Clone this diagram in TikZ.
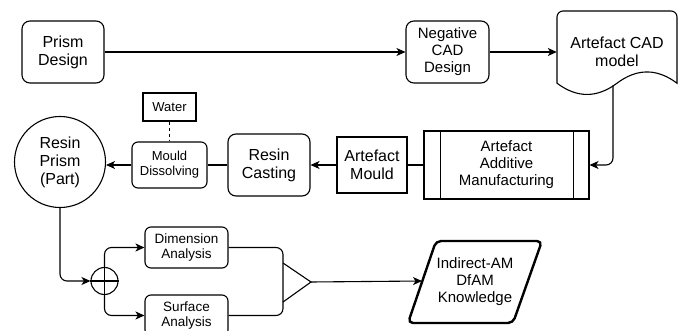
\documentclass[tikz,border=0pt]{standalone}
\usepackage{fontspec}
\setmainfont{Liberation Sans}
\usetikzlibrary{arrows.meta}
\tikzset{
  box/.style={draw, line width=1.1pt, align=center, inner sep=0pt},
  rbox/.style={box, rounded corners=8pt},
  sbox/.style={box, rounded corners=6pt},
  conn/.style={line width=1.1pt, rounded corners=7pt},
  arr/.style={conn, -{Stealth[length=9pt,width=8pt,inset=2.5pt]}},
  fA/.style={font=\fontsize{16}{18}\selectfont},
  fB/.style={font=\fontsize{15}{17}\selectfont},
  fC/.style={font=\fontsize{13.5}{15.5}\selectfont},
  fD/.style={font=\fontsize{13}{15}\selectfont},
}
\begin{document}
\begin{tikzpicture}[x=1pt,y=-1pt]
\useasboundingbox (0,0) rectangle (682,331);
\clip (0,0) rectangle (682,331);
\fill[white] (0,0) rectangle (682,331);

% nodes
\node[rbox,fA,minimum width=82,minimum height=62] (prism) at (63,52) {Prism\\Design};
\node[rbox,fB,minimum width=83,minimum height=62] (neg) at (447.5,52) {Negative\\CAD\\Design};
% document shape
\draw[line width=1.1pt, rounded corners=6pt] (557,83.2) -- (557,11) -- (677,11) [sharp corners] -- (677,83.2)
  .. controls (657,68.2) and (637,68.2) .. (617,83.2)
  .. controls (597,98.2) and (577,98.2) .. (557,83.2) -- cycle;
\node[fA,align=center,minimum width=120,minimum height=60,inner sep=0pt] (doc) at (617,52) {Artefact CAD\\model};
\coordinate (docb) at (613,85.5);

\node[box,fB,minimum width=165,minimum height=68] (am) at (506.5,165) {Artefact\\Additive\\Manufacturing};
\draw[line width=1.1pt] ([xshift=17]am.north west) -- ([xshift=17]am.south west)
  ([xshift=-16]am.north east) -- ([xshift=-16]am.south east);
\node[box,fA,minimum width=70,minimum height=56] (mould) at (372,165) {Artefact\\Mould};
\node[rbox,fA,minimum width=82,minimum height=62] (cast) at (269,165) {Resin\\Casting};
\node[sbox,fD,minimum width=75,minimum height=46] (diss) at (169.5,165) {Mould\\Dissolving};
\node[box,fD,minimum width=53,minimum height=28] (water) at (169.5,107) {Water};
\node[box,circle,fA,minimum size=91] (resin) at (60,162) {Resin\\Prism\\(Part)};
\node[draw,circle,line width=1.1pt,minimum size=27,inner sep=0pt] (sum) at (104.5,281) {};
\draw[line width=1.1pt] (sum.north) -- (sum.south) (sum.west) -- (sum.east);
\node[sbox,fC,minimum width=83,minimum height=41] (dim) at (186.5,247.5) {Dimension\\Analysis};
\node[sbox,fC,minimum width=83,minimum height=41] (surf) at (186.5,315.5) {Surface\\Analysis};
\coordinate (t1) at (283,263);
\coordinate (t2) at (283,302);
\coordinate (t3) at (311,282);
\draw[line width=1.1pt] (t1) -- (t3) -- (t2);
\draw[line width=2.4pt, rounded corners=5pt] (436,241) -- (542,241) -- (513,323) -- (408,323) -- cycle;
\node[fB,align=center] (kn) at (475,282) {Indirect-AM\\DfAM\\Knowledge};
\coordinate (kin) at (422,281);

% connectors
\draw[arr] (prism.east) -- (neg.west);
\draw[arr] (neg.east) -- (doc.west);
\draw[arr] (docb) |- (am.east);
\draw[conn] (am.west) -- (mould.east);
\draw[arr] (mould.west) -- (cast.east);
\draw[conn] (cast.west) -- (diss.east);
\draw[arr] (diss.west) -- (diss.west -| resin.east);
\draw[conn,dashed,dash pattern=on 3pt off 3pt] (water.south) -- (diss.north);
\draw[arr] (resin.south) |- (sum.west);
\draw[arr] (sum.north) |- (dim.west);
\draw[arr] (sum.south) |- (surf.west);
\draw[conn] (dim.east) -| (t1) -- (t2);
\draw[conn] (surf.east) -| (t2);
\draw[arr] (t3) -- (kin);
\end{tikzpicture}
\end{document}
